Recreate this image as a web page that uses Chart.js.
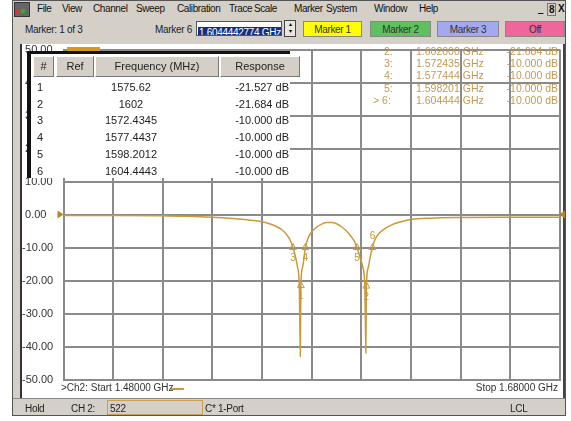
<!DOCTYPE html>
<html><head><meta charset="utf-8">
<script src="https://cdn.jsdelivr.net/npm/chart.js@4.4.1/dist/chart.umd.min.js"></script>
<style>
html,body{margin:0;padding:0;background:#fff;width:571px;height:421px;overflow:hidden;font-family:"Liberation Sans",Arial,sans-serif;}
.abs{position:absolute;white-space:nowrap;}
#win{left:12px;top:0;width:554px;height:416px;background:#d4d0c8;border:1px solid #555;box-sizing:border-box;}
#panel{left:20px;top:44px;width:545px;height:354px;background:#fff;border-left:2px solid #333;border-right:2px solid #444;box-sizing:border-box;}
.menu{font-size:10px;letter-spacing:-0.4px;color:#111;top:3px;}
.tb{font-size:10px;letter-spacing:-0.3px;color:#222;top:24px;}
.btn{top:21px;height:16px;font-size:10px;letter-spacing:-0.4px;text-align:center;line-height:16px;border:1px solid #888;box-sizing:border-box;color:#333;}
#cv{left:20px;top:40px;width:545px;height:358px;}
#tbl{left:27px;top:51px;width:263px;height:127px;background:#fff;border-top:3px solid #111;border-left:4px solid #111;box-sizing:border-box;font-size:11px;color:#222;}
.hd{top:2px;height:21px;background:#d4d0c8;border:1px solid;border-color:#fff #777 #777 #fff;box-sizing:border-box;text-align:center;line-height:19px;font-size:11px;}
.ro{font-size:10.5px;color:#c09a52;}
.st{font-size:10px;letter-spacing:-0.3px;color:#222;top:403px;}
</style></head><body>
<div id="win" class="abs"></div>
<!-- menu bar -->
<div class="abs" style="left:14px;top:2px;width:14px;height:13px;background:#666;border:1px solid #333;"></div>
<div class="abs" style="left:16px;top:9px;width:4px;height:4px;background:#d33;"></div>
<div class="abs" style="left:21px;top:9px;width:4px;height:4px;background:#3a3;"></div>
<span class="abs menu" style="left:37px">File</span>
<span class="abs menu" style="left:62px">View</span>
<span class="abs menu" style="left:93px">Channel</span>
<span class="abs menu" style="left:136px">Sweep</span>
<span class="abs menu" style="left:177px">Calibration</span>
<span class="abs menu" style="left:229px">Trace</span>
<span class="abs menu" style="left:254px">Scale</span>
<span class="abs menu" style="left:294px">Marker</span>
<span class="abs menu" style="left:326px">System</span>
<span class="abs menu" style="left:374px">Window</span>
<span class="abs menu" style="left:419px">Help</span>
<span class="abs menu" style="left:538px;font-weight:bold;text-decoration:underline;">_</span>
<span class="abs menu" style="left:547px;font-weight:bold;border:1px solid #777;padding:0 1px;line-height:11px;font-size:10px;">8</span>
<span class="abs menu" style="left:558px;font-weight:bold;">X</span>
<!-- toolbar -->
<span class="abs tb" style="left:25px">Marker: 1 of 3</span>
<span class="abs tb" style="left:155px">Marker 6</span>
<div class="abs" style="left:196px;top:21px;width:86px;height:15px;background:#fff;border:1px solid #555;box-sizing:border-box;overflow:hidden;">
<span style="display:inline-block;background:#13307e;color:#fff;font-size:10px;letter-spacing:-0.3px;line-height:12px;padding:0 1px;margin:1px;">1.6044442774 GHz</span></div>
<div class="abs" style="left:284px;top:20px;width:12px;height:17px;background:#e8e6e0;border:1px solid #444;box-sizing:border-box;font-size:6px;text-align:center;line-height:7px;">▴<br>▾</div>
<div class="abs btn" style="left:303px;width:59px;background:#ffff00;">Marker 1</div>
<div class="abs btn" style="left:370px;width:61px;background:#5fc060;">Marker 2</div>
<div class="abs btn" style="left:437px;width:62px;background:#a4a8f0;">Marker 3</div>
<div class="abs btn" style="left:505px;width:60px;background:#f0669a;">Off</div>
<!-- plot panel -->
<div id="panel" class="abs"></div>
<div id="cv" class="abs"><canvas id="c" width="545" height="358"></canvas></div>
<div class="abs" style="left:67px;top:47px;width:33px;height:4px;background:#d49a1c;"></div>
<div id="tbl" class="abs"></div>
<div id="ro" class="abs" style="left:0;top:0;"></div>
<span class="abs" style="left:61px;top:382px;font-size:10px;color:#333;">&gt;Ch2: Start 1.48000 GHz</span>
<div class="abs" style="left:171px;top:388px;width:13px;height:2px;background:#c99a3c;"></div>
<span class="abs" style="left:472px;top:382px;width:86px;text-align:right;font-size:10px;color:#333;">Stop 1.68000 GHz</span>
<!-- status bar -->
<div class="abs" style="left:13px;top:398px;width:552px;height:1px;background:#888;"></div>
<span class="abs st" style="left:25px">Hold</span>
<span class="abs st" style="left:71px">CH 2:</span>
<div class="abs" style="left:107px;top:400px;width:96px;height:15px;border:1px solid #c9a055;box-sizing:border-box;"></div>
<span class="abs st" style="left:110px">522</span>
<span class="abs st" style="left:205px">C* 1-Port</span>
<span class="abs st" style="left:510px">LCL</span>
<script>
// ---- data ----
const startMHz = 1480, stopMHz = 1680, xStepMHz = 20;
const yMinDb = -50, yMaxDb = 50, yStepDb = 10;
const freqMHz = [1480,1500,1520,1530,1540,1548,1554,1559,1563,1566,1568,1570,1571.5,1572.43,1573.5,1574.3,1575.0,1575.4,1575.62,1576.3,1577.44,1578.5,1580,1582,1584,1586,1588,1590,1592,1594,1596,1597.5,1598.2,1599.5,1600.6,1601.4,1601.8,1602.0,1602.8,1603.5,1604.44,1605.5,1607,1609,1612,1616,1620,1628,1640,1660,1680];
const responseDb = [-0.3,-0.3,-0.4,-0.5,-0.8,-1.2,-1.6,-2.0,-2.8,-3.7,-4.6,-6.2,-8.0,-10.0,-13,-16,-22,-43,-21.5,-16,-10,-7.2,-5.2,-3.8,-2.9,-2.4,-2.4,-2.8,-3.7,-5.0,-6.8,-8.6,-10,-13,-16,-22,-42,-21.7,-16,-13,-10,-7.5,-5.8,-4.5,-3.2,-2.2,-1.5,-1.1,-0.9,-0.8,-0.8];
const markerNum = [1,2,3,4,5,6];
const markerFreqMHz = [1575.62,1602,1572.4345,1577.4437,1598.2012,1604.4443];
const markerRespDb = [-21.527,-21.684,-10.000,-10.000,-10.000,-10.000];
const activeMarker = 6;

const GOLD = '#c99a3c';

// marker table
(function(){
  const t = document.getElementById('tbl');
  const heads = [['#',2,21],['Ref',25,38],['Frequency (MHz)',64,124],['Response',189,80]];
  heads.forEach(h=>{const d=document.createElement('div');d.className='abs hd';d.style.left=h[1]+'px';d.style.width=h[2]+'px';d.textContent=h[0];t.appendChild(d);});
  markerNum.forEach((n,i)=>{
    const top = 27 + i*16.7;
    const a=document.createElement('span');a.className='abs';a.style.left='6px';a.style.top=top+'px';a.textContent=n;t.appendChild(a);
    const b=document.createElement('span');b.className='abs';b.style.left='50px';b.style.width='100px';b.style.textAlign='center';b.style.top=top+'px';b.textContent=String(markerFreqMHz[i]);t.appendChild(b);
    const c=document.createElement('span');c.className='abs';c.style.left='160px';c.style.width='98px';c.style.textAlign='right';c.style.top=top+'px';c.textContent=markerRespDb[i].toFixed(3)+' dB';t.appendChild(c);
  });
  // right readout (markers 2..6)
  const ro = document.getElementById('ro');
  markerNum.forEach((n,i)=>{
    if(n===1) return;
    const top = 45 + (n-2)*12.2;
    const p=document.createElement('span');p.className='abs ro';p.style.left=(n===activeMarker?373:384)+'px';p.style.top=top+'px';p.textContent=(n===activeMarker?'> ':'')+n+':';ro.appendChild(p);
    const f=document.createElement('span');f.className='abs ro';f.style.left='416px';f.style.top=top+'px';f.textContent=(markerFreqMHz[i]/1000).toFixed(6)+' GHz';ro.appendChild(f);
    const r=document.createElement('span');r.className='abs ro';r.style.left='490px';r.style.width='68px';r.style.textAlign='right';r.style.top=top+'px';r.textContent=markerRespDb[i].toFixed(3)+' dB';ro.appendChild(r);
  });
})();

const markerLabels = {
  id:'markerLabels',
  afterDatasetsDraw(chart){
    const ctx = chart.ctx, meta = chart.getDatasetMeta(1);
    ctx.save();
    ctx.fillStyle = GOLD; ctx.font = '10px "Liberation Sans", Arial'; ctx.textAlign='center'; ctx.textBaseline='middle';
    meta.data.forEach((pt,i)=>{
      const n = markerNum[i];
      const dy = (n===activeMarker) ? -11 : 11;
      ctx.fillText(String(n), pt.x, pt.y + dy);
    });
    // reference arrows at 0 dB
    const y0 = chart.scales.y.getPixelForValue(0);
    const a = chart.chartArea;
    ctx.fillStyle = '#b8842a';
    ctx.beginPath(); ctx.moveTo(a.left-6, y0-4); ctx.lineTo(a.left, y0); ctx.lineTo(a.left-6, y0+4); ctx.closePath(); ctx.fill();
    ctx.beginPath(); ctx.moveTo(a.right+5, y0-4); ctx.lineTo(a.right-1, y0); ctx.lineTo(a.right+5, y0+4); ctx.closePath(); ctx.fill();
    ctx.restore();
  }
};

new Chart(document.getElementById('c'), {
  type:'line',
  data:{datasets:[
    {data:freqMHz.map((f,i)=>({x:f,y:responseDb[i]})), borderColor:GOLD, borderWidth:1.5, pointRadius:0, cubicInterpolationMode:'monotone'},
    {data:markerFreqMHz.map((f,i)=>({x:f,y:markerRespDb[i]})), showLine:false, pointStyle:'triangle', pointRadius:4, borderColor:GOLD, borderWidth:1, backgroundColor:'rgba(255,255,255,0)'}
  ]},
  options:{
    responsive:false, animation:false, devicePixelRatio:1,
    layout:{padding:{left:2,right:5,top:5.5,bottom:18.5}},
    plugins:{legend:{display:false},tooltip:{enabled:false}},
    scales:{
      x:{type:'linear',min:startMHz,max:stopMHz,
         ticks:{display:false,stepSize:xStepMHz},
         grid:{color:'#8a8a8a',lineWidth:2,drawTicks:false},
         border:{color:'#8a8a8a',width:2},
         afterFit(s){s.height=0;}},
      y:{min:yMinDb,max:yMaxDb,
         ticks:{stepSize:yStepDb,crossAlign:'far',color:'#333',font:{size:11,family:'"Liberation Sans", Arial'},
                callback:v=> (v<0?'':' ')+Number(v).toFixed(2)},
         grid:{color:'#8a8a8a',lineWidth:2,drawTicks:false},
         border:{color:'#8a8a8a',width:2},
         afterFit(s){s.width=41.5;}}
    }
  },
  plugins:[markerLabels]
});
</script>
</body></html>
